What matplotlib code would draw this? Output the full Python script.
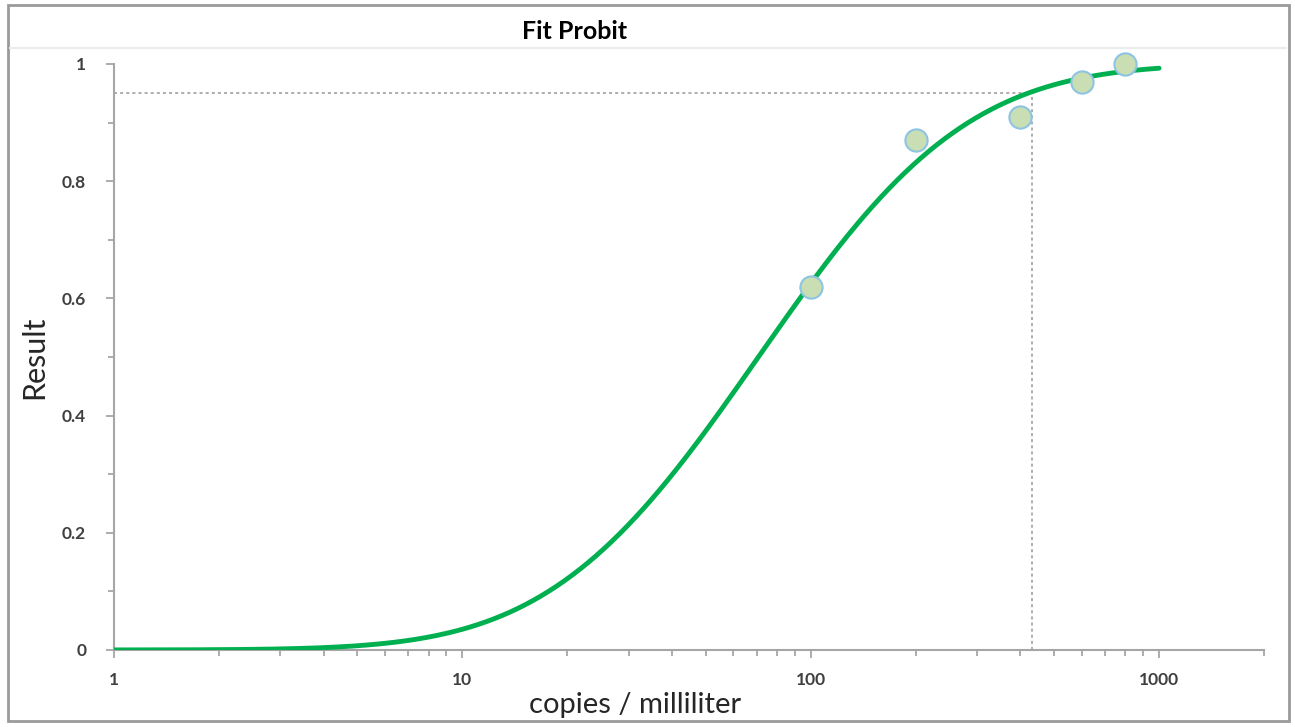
import math
import numpy as np
import matplotlib.pyplot as plt
from matplotlib.ticker import FixedLocator, LogLocator, NullFormatter, MultipleLocator
from matplotlib.patches import Rectangle
from matplotlib.lines import Line2D

plt.rcParams['font.family'] = ['Lato', 'DejaVu Sans']

# observed hit rates
conc = [100, 200, 400, 600, 800]
hit_rate = [0.62, 0.87, 0.91, 0.97, 1.0]

# probit fit (log10 scale)
fit_mu = 1.85
fit_sigma = 0.47
fit_range = (1, 1000)
c95 = 432  # concentration at 95% detection

x_ticks = [1, 10, 100, 1000]
y_ticks = [0, 0.2, 0.4, 0.6, 0.8, 1]
y_labels = ["0", "0.2", "0.4", "0.6", "0.8", "1"]

fig = plt.figure(figsize=(12.95, 7.27), dpi=100)
ax = fig.add_axes([0.088, 0.106, 0.888, 0.806])

# fitted curve
xs = np.logspace(np.log10(fit_range[0]), np.log10(fit_range[1]), 400)
ys = [0.5 * (1 + math.erf((np.log10(v) - fit_mu) / (fit_sigma * math.sqrt(2)))) for v in xs]
ax.plot(xs, ys, color="#00B050", lw=3.5, zorder=3, solid_capstyle='round')

# 95% guide lines
ax.plot([1, c95], [0.95, 0.95], color="#999999", lw=1.1, ls=(0, (2, 2)), zorder=2)
ax.plot([c95, c95], [0, 0.95], color="#999999", lw=1.1, ls=(0, (2, 2)), zorder=2)

ax.plot(conc, hit_rate, 'o', ms=16, mfc="#C9DFB3", mec="#8DC3E3", mew=1.5,
        zorder=4, clip_on=False)

ax.set_xscale('log')
ax.set_xlim(1, 2000)
ax.set_ylim(0, 1)

ax.xaxis.set_major_locator(FixedLocator(x_ticks))
ax.set_xticklabels([str(t) for t in x_ticks])
ax.xaxis.set_minor_locator(LogLocator(base=10, subs=np.arange(2, 10), numticks=20))
ax.xaxis.set_minor_formatter(NullFormatter())
ax.set_yticks(y_ticks)
ax.set_yticklabels(y_labels)
ax.yaxis.set_minor_locator(MultipleLocator(0.1))

for s in ['top', 'right']:
    ax.spines[s].set_visible(False)
for s in ['left', 'bottom']:
    ax.spines[s].set_color("#A6A6A6")
    ax.spines[s].set_linewidth(1.5)

ax.tick_params(axis='both', which='both', color="#A6A6A6", width=1.3, direction='out')
ax.tick_params(axis='both', which='major', length=6, labelsize=12.5, labelcolor="#404040")
ax.tick_params(axis='both', which='minor', length=4)
ax.tick_params(axis='x', which='major', pad=10)
ax.tick_params(axis='y', which='major', pad=14)
for lab in ax.get_xticklabels() + ax.get_yticklabels():
    lab.set_fontweight('bold')

ax.set_xlabel("copies / milliliter", fontsize=21, color="#262626")
ax.xaxis.set_label_coords(0.453, -0.072)
ax.set_ylabel("Result", fontsize=22, color="#262626")
ax.yaxis.set_label_coords(-0.057, 0.5)

# header band and frame
fig.text(0.444, 0.957, "Fit Probit", ha='center', va='center', fontsize=18,
         fontweight='bold', color="#000000")
fig.add_artist(Line2D([0.008, 0.993], [0.934, 0.934], color="#EBEBEB", lw=1.5,
                      transform=fig.transFigure))
fig.add_artist(Rectangle((0.006, 0.008), 0.989, 0.985, transform=fig.transFigure,
                         fill=False, edgecolor="#9A9A9A", lw=2))

fig.savefig("out.png", dpi=100)
